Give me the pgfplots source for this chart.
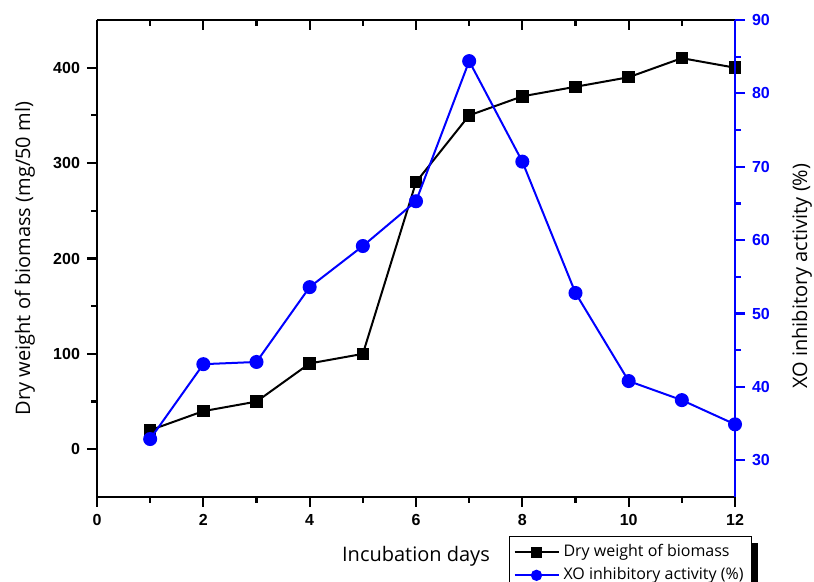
\documentclass[border=0pt]{standalone}
\usepackage{pgfplots}
\pgfplotsset{compat=1.18}
\usepackage{fontspec}
\setmainfont{Open Sans}
\newfontfamily\tickfont{Liberation Sans}
\definecolor{pblue}{RGB}{0,0,255}
\begin{document}
\begin{tikzpicture}
\clip (0pt,0pt) rectangle (407pt,291pt);
\path[use as bounding box] (0pt,0pt) rectangle (407pt,291pt);
\pgfplotsset{
  common/.style={
    scale only axis, width=319pt, height=238.5pt,
    at={(48.5pt,42.5pt)}, anchor=south west,
    xmin=0, xmax=12,
    major tick length=5pt, minor tick length=3pt,
    every tick/.style={line width=1.1pt},
    /pgf/number format/assume math mode=true,
    tick label style={font=\tickfont\bfseries\fontsize{8}{9}\selectfont},
    label style={font=\fontsize{10}{12}\selectfont},
  },
  nolinearrow/.style={axis line style={-, line width=1.2pt}},
}
% top axis with inward ticks
\begin{axis}[common,
  axis x line=top, axis y line=none,
  tick align=inside,
  xtick={0,2,...,12}, minor xtick={1,3,...,11},
  xticklabels={},
  ymin=-50, ymax=450, nolinearrow]
\end{axis}
% left axis
\begin{axis}[common,
  axis x line=bottom, axis y line=left,
  tick align=outside,
  ymin=-50, ymax=450,
  xtick={0,2,...,12}, minor xtick={1,3,...,11},
  ytick={0,100,...,400}, minor ytick={50,150,...,350},
  xlabel={Incubation days},
  ylabel={Dry weight of biomass (mg/50 ml)},
  xlabel style={at={(axis description cs:0.5,-0.124)}, anchor=center},
  ylabel style={at={(axis description cs:-0.113,0.5)}, anchor=center},
  nolinearrow,
]
\addplot[black, line width=1pt, mark=square*, mark size=2.6pt,
  mark options={solid}] coordinates {
  (1,20) (2,40) (3,50) (4,90) (5,100) (6,280)
  (7,350) (8,370) (9,380) (10,390) (11,410) (12,400)};
\end{axis}
% right axis
\begin{axis}[common,
  axis x line=none, axis y line=right,
  tick align=outside,
  ymin=25, ymax=90,
  ytick={30,40,...,90}, minor ytick={35,45,...,85},
  nolinearrow,
  y axis line style={pblue},
  ytick style={pblue},
  yticklabel style={text=pblue},
  ylabel={XO inhibitory activity (\%)},
  ylabel style={at={(axis description cs:1.105,0.463)}, anchor=center},
  legend style={name=leg, at={(axis description cs:0.6458,-0.0818)}, anchor=north west,
    font=\fontsize{8}{10}\selectfont, draw=black, line width=0.5pt,
    fill=white, inner sep=2pt, row sep=0pt},
  legend cell align=left,
  legend image code/.code={
    \draw[#1, line width=1pt] (0pt,0pt) -- (22pt,0pt);
    \draw[#1, only marks, mark size=2.3pt] plot coordinates {(11pt,0pt)};
  },
]
\addlegendimage{black, line width=1pt, mark=square*}
\addlegendentry{Dry weight of biomass}
\addplot[pblue, line width=1pt, mark=*, mark size=3pt] coordinates {
  (1,32.9) (2,43.1) (3,43.4) (4,53.6) (5,59.2) (6,65.3)
  (7,84.4) (8,70.7) (9,52.8) (10,40.8) (11,38.2) (12,34.9)};
\addlegendentry{XO inhibitory activity (\%)}
\end{axis}
\fill[black] ([yshift=-3.5pt]leg.north east) rectangle ([xshift=3pt,yshift=-20pt]leg.south east);
\end{tikzpicture}
\end{document}
